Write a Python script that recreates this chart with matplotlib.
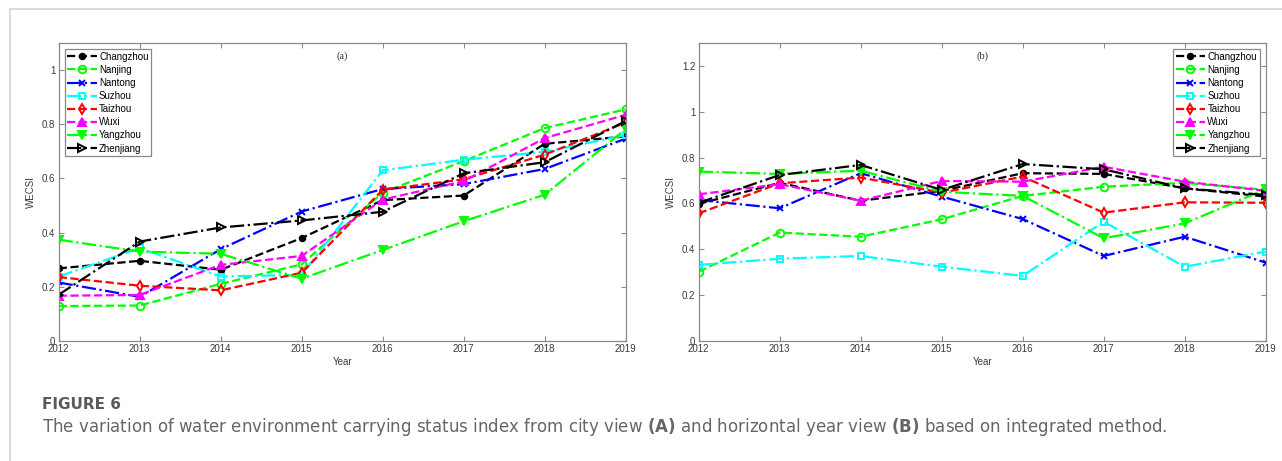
import matplotlib
matplotlib.use("Agg")
import matplotlib.pyplot as plt
from matplotlib.patches import Rectangle

years = [2012, 2013, 2014, 2015, 2016, 2017, 2018, 2019]
cities = ["Changzhou", "Nanjing", "Nantong", "Suzhou", "Taizhou", "Wuxi", "Yangzhou", "Zhenjiang"]

# Panel (a): city view
a_changzhou = [0.268, 0.296, 0.263, 0.380, 0.520, 0.537, 0.728, 0.755]
a_nanjing   = [0.129, 0.131, 0.211, 0.283, 0.548, 0.664, 0.786, 0.855]
a_nantong   = [0.216, 0.163, 0.339, 0.478, 0.561, 0.579, 0.635, 0.747]
a_suzhou    = [0.238, 0.343, 0.238, 0.244, 0.630, 0.669, 0.698, 0.760]
a_taizhou   = [0.236, 0.204, 0.187, 0.252, 0.558, 0.597, 0.688, 0.806]
a_wuxi      = [0.167, 0.170, 0.281, 0.314, 0.522, 0.590, 0.749, 0.835]
a_yangzhou  = [0.374, 0.330, 0.322, 0.230, 0.336, 0.442, 0.540, 0.782]
a_zhenjiang = [0.171, 0.367, 0.419, 0.445, 0.477, 0.619, 0.660, 0.812]

# Panel (b): horizontal year view
b_changzhou = [0.598, 0.690, 0.612, 0.655, 0.732, 0.729, 0.666, 0.630]
b_nanjing   = [0.302, 0.473, 0.455, 0.531, 0.633, 0.673, 0.690, 0.660]
b_nantong   = [0.615, 0.579, 0.732, 0.630, 0.532, 0.371, 0.455, 0.342]
b_suzhou    = [0.332, 0.359, 0.371, 0.324, 0.284, 0.520, 0.324, 0.390]
b_taizhou   = [0.557, 0.688, 0.713, 0.647, 0.717, 0.560, 0.605, 0.603]
b_wuxi      = [0.640, 0.684, 0.612, 0.698, 0.695, 0.760, 0.695, 0.655]
b_yangzhou  = [0.739, 0.729, 0.743, 0.651, 0.633, 0.448, 0.513, 0.662]
b_zhenjiang = [0.603, 0.724, 0.768, 0.659, 0.772, 0.749, 0.666, 0.637]

a_series = [a_changzhou, a_nanjing, a_nantong, a_suzhou, a_taizhou, a_wuxi, a_yangzhou, a_zhenjiang]
b_series = [b_changzhou, b_nanjing, b_nantong, b_suzhou, b_taizhou, b_wuxi, b_yangzhou, b_zhenjiang]

a_yticks = [0, 0.2, 0.4, 0.6, 0.8, 1]
a_yticklabels = ["0", "0.2", "0.4", "0.6", "0.8", "1"]
b_yticks = [0, 0.2, 0.4, 0.6, 0.8, 1, 1.2]
b_yticklabels = ["0", "0.2", "0.4", "0.6", "0.8", "1", "1.2"]

caption_head = "FIGURE 6"
caption_text = ("The variation of water environment carrying status index from city view $\\bf{(A)}$ "
                "and horizontal year view $\\bf{(B)}$ based on integrated method.")

styles = [
    dict(color="black", ls="--", marker="o", ms=4, mfc="black"),
    dict(color="#00ff00", ls="--", marker="o", ms=5.5, mfc="none"),
    dict(color="blue", ls="-.", marker="x", ms=4.5, mfc="blue"),
    dict(color="cyan", ls="-.", marker="s", ms=5, mfc="none"),
    dict(color="red", ls="--", marker="d", ms=5.5, mfc="none"),
    dict(color="magenta", ls="--", marker="^", ms=6, mfc="magenta"),
    dict(color="#00ff00", ls="-.", marker="v", ms=6, mfc="#00ff00"),
    dict(color="black", ls="-.", marker=">", ms=6, mfc="none"),
]

plt.rcParams["font.family"] = ["Liberation Sans", "DejaVu Sans"]
plt.rcParams["mathtext.fontset"] = "custom"
plt.rcParams["mathtext.bf"] = "DejaVu Sans:bold"
plt.rcParams["mathtext.rm"] = "DejaVu Sans"

fig = plt.figure(figsize=(12.82, 4.61), dpi=100)

# outer light frame
fig.patches.append(Rectangle((9.5 / 1282, -0.1), 1.2, (461 - 9.5) / 461 + 0.1,
                             transform=fig.transFigure, fill=False,
                             edgecolor="#d4d4d4", lw=1.2))

spine_c = "#8a8a8a"
label_c = "#3a3a3a"

axes_info = [
    (58.7, a_series, (0, 1.1), a_yticks, a_yticklabels, "(a)", "upper left"),
    (698.7, b_series, (0, 1.3), b_yticks, b_yticklabels, "(b)", "upper right"),
]

for left_px, series, ylim, yt, ytl, title, loc in axes_info:
    ax = fig.add_axes([left_px / 1282, (461 - 341) / 461, 567 / 1282, 298 / 461])
    for name, vals, st in zip(cities, series, styles):
        ax.plot(years, vals, linestyle=st["ls"], color=st["color"], marker=st["marker"],
                markersize=st["ms"], markerfacecolor=st["mfc"], markeredgecolor=st["color"],
                markeredgewidth=1.4, lw=1.6, label=name)
    ax.set_xlim(2012, 2019)
    ax.set_ylim(*ylim)
    ax.set_xticks(years)
    ax.set_xticklabels([str(y) for y in years])
    ax.set_yticks(yt)
    ax.set_yticklabels(ytl)
    ax.tick_params(direction="in", top=True, right=True, length=3.6, width=0.8,
                   colors=spine_c, labelcolor=label_c, labelsize=7, pad=2.5)
    for sp in ax.spines.values():
        sp.set_color(spine_c)
        sp.set_linewidth(0.9)
    ax.set_xlabel("Year", fontsize=7, color=label_c, labelpad=2)
    ax.set_ylabel("WECSI", fontsize=7, color=label_c, labelpad=4)
    ax.text(0.5, 0.955, title, transform=ax.transAxes, ha="center", va="center",
            fontsize=7.5, family=["Liberation Serif", "DejaVu Serif"], color="#333333")
    leg = ax.legend(loc=loc, fontsize=7, handlelength=3.0, handletextpad=0.25,
                    labelspacing=0.32, borderpad=0.3, borderaxespad=0.6,
                    fancybox=False, framealpha=1, edgecolor="#888888", numpoints=1)
    leg.get_frame().set_linewidth(0.9)

fig.text(42 / 1282, 1 - 404 / 461, caption_head, fontsize=11, color="#5a5a5a",
         fontweight="bold", family=["DejaVu Sans"], va="center", ha="left")
fig.text(42 / 1282, 1 - 427 / 461, caption_text, fontsize=12, color="#666666",
         family=["DejaVu Sans"], va="center", ha="left")

fig.savefig("out.png", dpi=100)
